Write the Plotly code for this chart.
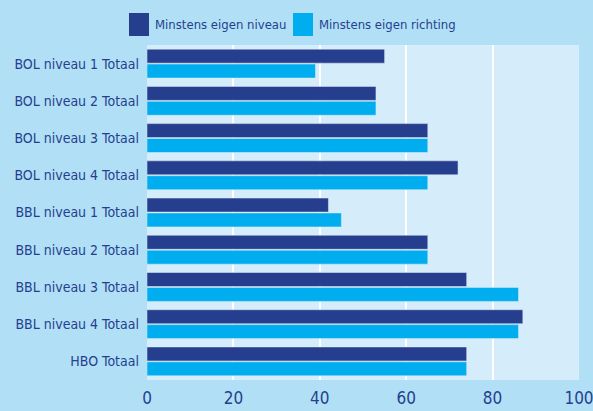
import plotly.graph_objects as go

categories = ["BOL niveau 1 Totaal", "BOL niveau 2 Totaal", "BOL niveau 3 Totaal",
              "BOL niveau 4 Totaal", "BBL niveau 1 Totaal", "BBL niveau 2 Totaal",
              "BBL niveau 3 Totaal", "BBL niveau 4 Totaal", "HBO Totaal"]
niveau = [55, 53, 65, 72, 42, 65, 74, 87, 74]
richting = [39, 53, 65, 65, 45, 65, 86, 86, 74]
x_ticks = [0, 20, 40, 60, 80, 100]
series_names = ["Minstens eigen niveau", "Minstens eigen richting"]

DARK = "#253F8E"
LIGHT = "#00AEEF"
TEXT = "#253F8E"
FONT = "DejaVu Sans Condensed, Liberation Sans, sans-serif"

W, H = 593, 411
ML, MR, MT, MB = 147, 14, 45, 31
PW, PH = W - ML - MR, H - MT - MB


def px_x(p):
    return (p - ML) / PW


def px_y(p):
    return (H - MB - p) / PH


fig = go.Figure()
fig.add_trace(go.Bar(y=categories, x=niveau, orientation="h", name=series_names[0],
                     marker=dict(color=DARK), showlegend=False))
fig.add_trace(go.Bar(y=categories, x=richting, orientation="h", name=series_names[1],
                     marker=dict(color=LIGHT), showlegend=False))

# custom legend (large square swatches)
shapes = []
annotations = []
for (sx, tx), color, name in zip([(129, 153), (293, 317)], [DARK, LIGHT], series_names):
    shapes.append(dict(type="rect", xref="paper", yref="paper",
                       x0=px_x(sx), x1=px_x(sx + 20), y0=px_y(36), y1=px_y(13),
                       fillcolor=color, line=dict(width=0), layer="above"))
    annotations.append(dict(xref="paper", yref="paper", x=px_x(tx), y=px_y(24.5),
                            xanchor="left", yanchor="middle", text=name, showarrow=False,
                            font=dict(size=13, color=TEXT, family=FONT)))

fig.update_layout(
    width=W, height=H,
    margin=dict(l=ML, r=MR, t=MT, b=MB, autoexpand=False),
    paper_bgcolor="#B1E0F6",
    plot_bgcolor="#D5ECFA",
    barmode="group", bargap=0.2, bargroupgap=0.06,
    font=dict(family=FONT, color=TEXT, size=14),
    shapes=shapes, annotations=annotations,
    showlegend=False,
)
fig.update_xaxes(range=[0, 100], tickvals=x_ticks, showgrid=True, gridcolor="white",
                 gridwidth=2, zeroline=False, tickfont=dict(size=17, color=TEXT),
                 ticks="", fixedrange=True, ticklabeloverflow="allow", ticklabelstandoff=6,
                 automargin=False)
fig.update_yaxes(autorange="reversed", showgrid=False, ticks="", ticklabelstandoff=7,
                 tickfont=dict(size=14, color=TEXT), fixedrange=True, automargin=False)

fig.write_html("out.html", config={"displayModeBar": False},
               post_script="document.body.style.margin='0';document.body.style.overflow='hidden';")
